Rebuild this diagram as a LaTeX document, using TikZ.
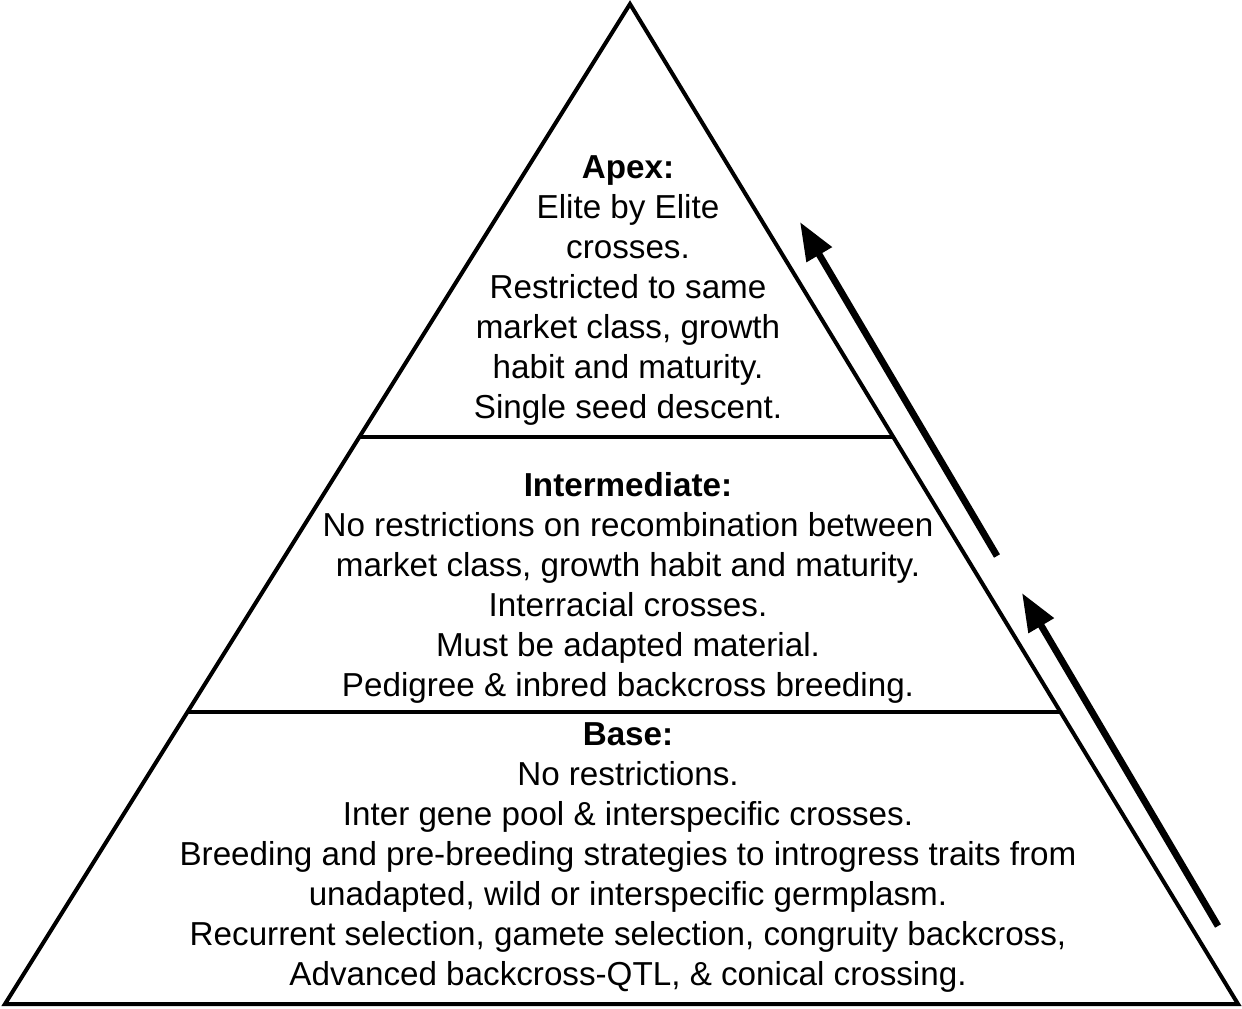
\documentclass[tikz,border=0pt]{standalone}
\usepackage{fontspec}
\setmainfont{Liberation Sans}
\usetikzlibrary{arrows.meta,calc}
\begin{document}
\begin{tikzpicture}[x=0.5pt,y=-0.5pt,
  edge/.style={line width=2pt,line join=miter},
  divider/.style={line width=1.6pt},
  uparrow/.style={line width=3.4pt,-{Triangle[length=19pt,width=14pt]}},
  blocktext/.style={align=center,inner sep=0pt,font=\fontsize{16.6}{20}\selectfont}]
\useasboundingbox (0,0) rectangle (1242,1008);
\coordinate (apex) at (630,4);
\coordinate (bl) at (5,1004);
\coordinate (br) at (1238,1004);
\draw[edge] (apex) -- (br) -- (bl) -- cycle;
\coordinate (l1) at ($(apex)!0.433!(bl)$);
\coordinate (r1) at ($(apex)!0.433!(br)$);
\coordinate (l2) at ($(apex)!0.708!(bl)$);
\coordinate (r2) at ($(apex)!0.708!(br)$);
\draw[divider] (l1) -- (r1);
\draw[divider] (l2) -- (r2);
\node[blocktext] (apextext) at (628,291) {\textbf{Apex:}\\Elite by Elite\\crosses.\\Restricted to same\\market class, growth\\habit and maturity.\\Single seed descent.};
\node[blocktext] (midtext) at (628,588) {\textbf{Intermediate:}\\No restrictions on recombination between\\market class, growth habit and maturity.\\Interracial crosses.\\Must be adapted material.\\Pedigree \& inbred backcross breeding.};
\node[blocktext] (basetext) at (628,858) {\textbf{Base:}\\No restrictions.\\Inter gene pool \& interspecific crosses.\\Breeding and pre-breeding strategies to introgress traits from\\unadapted, wild or interspecific germplasm.\\Recurrent selection, gamete selection, congruity backcross,\\Advanced backcross-QTL, \& conical crossing.};
\coordinate (a1s) at (997,556);
\coordinate (a1e) at (800,222);
\coordinate (a2s) at (1218,926);
\coordinate (a2e) at (1022,593);
\draw[uparrow] (a1s) -- (a1e);
\draw[uparrow] (a2s) -- (a2e);
\end{tikzpicture}
\end{document}
